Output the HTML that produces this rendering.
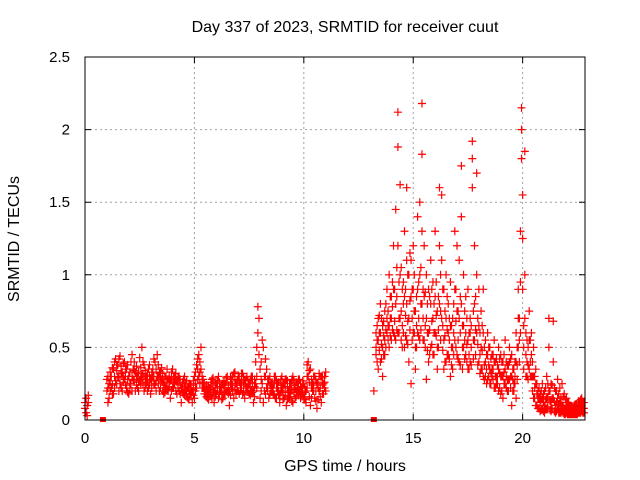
<!DOCTYPE html>
<html><head><meta charset="utf-8"><style>
body{margin:0;background:#fff}
svg{display:block;font-family:"Liberation Sans",sans-serif}
</style></head><body>
<svg id="chart" width="640" height="480" xmlns="http://www.w3.org/2000/svg">
<rect width="640" height="480" fill="#fff"/>
<text x="345" y="32" font-size="16" text-anchor="middle">Day 337 of 2023, SRMTID for receiver cuut</text>
<text x="345" y="471" font-size="16" text-anchor="middle">GPS time / hours</text>
<text transform="translate(19,239) rotate(-90)" font-size="16" text-anchor="middle">SRMTID / TECUs</text>
<g id="grid"></g>
<g id="marks"></g>
<rect x="85" y="57" width="500" height="363" fill="none" stroke="#000" stroke-width="1"/>
<g id="ticks"></g>
</svg>
<script>
const xTicks=[0,5,10,15,20];
const yTicks=[0,0.5,1,1.5,2,2.5];
const yTickLabels=["0","0.5","1","1.5","2","2.5"];
const zeroTimes=[0.82,13.2];
const times=[0,0.05,0.1,0.15,
1.0,1.1,1.2,1.3,1.4,1.5,1.6,1.7,1.8,1.9,2.0,2.1,2.2,2.3,2.4,2.5,2.6,2.7,2.8,2.9,3.0,3.1,3.2,3.3,3.4,3.5,3.6,3.7,3.8,3.9,4.0,4.1,4.2,4.3,4.4,4.5,4.6,4.7,4.8,4.9,5.0,5.1,5.2,5.3,5.4,5.5,5.6,5.7,5.8,5.9,6.0,6.1,6.2,6.3,6.4,6.5,6.6,6.7,6.8,6.9,7.0,7.1,7.2,7.3,7.4,7.5,7.6,7.7,7.8,7.9,7.95,8.0,8.1,8.15,8.2,8.3,8.4,8.5,8.6,8.7,8.8,8.9,9.0,9.1,9.2,9.3,9.4,9.5,9.6,9.7,9.8,9.9,10.0,10.1,10.2,10.3,10.4,10.5,10.6,10.7,10.8,10.9,11.0,
1.05,1.15,1.25,1.35,1.45,1.55,1.65,1.75,1.85,1.95,2.05,2.15,2.25,2.35,2.45,2.55,2.65,2.75,2.85,2.95,3.05,3.15,3.25,3.35,3.45,3.55,3.65,3.75,3.85,3.95,4.05,4.15,4.25,4.35,4.45,4.55,4.65,4.75,4.85,4.95,5.05,5.15,5.25,5.35,5.45,5.55,5.65,5.75,5.85,5.95,6.05,6.15,6.25,6.35,6.45,6.55,6.65,6.75,6.85,6.95,7.05,7.15,7.25,7.35,7.45,7.55,7.65,7.75,7.85,8.05,8.25,8.35,8.45,8.55,8.65,8.75,8.85,8.95,9.05,9.15,9.25,9.35,9.45,9.55,9.65,9.75,9.85,9.95,10.05,10.15,10.25,10.35,10.45,10.55,10.65,10.75,10.85,10.95,
13.2,13.3,13.4,13.5,13.6,13.7,13.8,13.9,14.0,14.1,14.2,14.3,14.4,14.5,14.6,14.7,14.8,14.9,15.0,15.1,15.2,15.3,15.4,15.5,15.6,15.7,15.8,15.9,16.0,16.1,16.2,16.3,16.4,16.5,16.6,16.7,16.8,16.9,17.0,17.1,17.2,17.3,17.4,17.5,17.6,17.7,17.8,17.9,18.0,18.1,18.2,18.3,18.4,18.5,18.6,18.7,18.8,18.9,19.0,19.1,19.2,19.3,19.4,19.5,19.6,19.7,19.8,19.9,19.95,20.0,20.1,20.2,20.3,20.4,20.5,20.6,20.7,20.8,20.9,21.0,21.1,21.2,21.3,21.4,21.5,21.6,21.7,21.8,21.9,22.0,22.1,22.2,22.3,22.4,22.5,22.6,22.7,22.8,
13.35,13.45,13.55,13.65,13.75,13.85,13.95,14.05,14.15,14.25,14.35,14.45,14.55,14.65,14.75,14.85,14.95,15.05,15.15,15.25,15.35,15.45,15.55,15.65,15.75,15.85,15.95,16.05,16.15,16.25,16.35,16.45,16.55,16.65,16.75,16.85,16.95,17.05,17.15,17.25,17.35,17.45,17.55,17.65,17.75,17.85,17.95,18.05,18.15,18.25,18.35,18.45,18.55,18.65,18.75,18.85,18.95,19.05,19.15,19.25,19.35,19.45,19.55,19.65,19.75,19.85,20.05,20.15,20.25,20.35,20.45,20.55,20.65,20.75,20.85,20.95,21.05,21.15,21.25,21.35,21.45,21.55,21.65,21.75,21.85,21.95,22.05,22.15,22.25,22.35,22.45,22.55,22.65,22.75];
const srmtid=[[0.12,0.08],[0.15,0.05],[0.1,0.03],[0.17,0.12],
[0.2,0.28],[0.25,0.15],[0.3,0.22],[0.18,0.35],[0.42,0.27],[0.38,0.3],[0.25,0.44],[0.33,0.2],[0.28,0.4],[0.22,0.35],[0.3,0.18],[0.4,0.25],[0.35,0.28],[0.2,0.33],[0.3,0.22],[0.43,0.27],[0.5,0.3],[0.38,0.2],[0.3,0.25],[0.22,0.35],[0.28,0.18],[0.35,0.3],[0.25,0.4],[0.45,0.3],[0.32,0.2],[0.36,0.28],[0.25,0.18],[0.3,0.22],[0.2,0.28],[0.27,0.15],[0.35,0.22],[0.25,0.3],[0.18,0.27],[0.3,0.2],[0.22,0.12],[0.28,0.18],[0.2,0.25],[0.15,0.22],[0.25,0.18],[0.2,0.12],[0.15,0.3],[0.38,0.22],[0.45,0.3],[0.5,0.35],[0.28,0.22],[0.18,0.2],[0.2,0.15],[0.22,0.18],[0.28,0.15],[0.2,0.12],[0.25,0.18],[0.3,0.15],[0.2,0.22],[0.15,0.25],[0.25,0.18],[0.3,0.2],[0.2,0.1],[0.28,0.22],[0.32,0.15],[0.25,0.18],[0.3,0.2],[0.2,0.25],[0.32,0.18],[0.27,0.15],[0.22,0.3],[0.18,0.25],[0.3,0.2],[0.2,0.12],[0.25,0.4],[0.78,0.6],[0.7,0.45],[0.35,0.15],[0.55,0.25],[0.5,0.12],[0.3,0.2],[0.35,0.22],[0.28,0.15],[0.2,0.25],[0.22,0.18],[0.3,0.15],[0.25,0.2],[0.18,0.12],[0.22,0.3],[0.15,0.25],[0.28,0.1],[0.2,0.15],[0.25,0.18],[0.3,0.12],[0.22,0.15],[0.2,0.25],[0.28,0.2],[0.18,0.22],[0.25,0.15],[0.2,0.12],[0.4,0.3],[0.35,0.1],[0.2,0.25],[0.3,0.15],[0.25,0.08],[0.32,0.2],[0.3,0.12],[0.25,0.18],[0.33,0.2],
[0.22,0.3,0.12],[0.27,0.2,0.33],[0.24,0.36,0.18],[0.3,0.4,0.22],[0.34,0.25,0.38],[0.29,0.42,0.2],[0.32,0.22,0.37],[0.26,0.3,0.39],[0.35,0.24,0.3],[0.28,0.38,0.19],[0.25,0.33,0.22],[0.3,0.45,0.2],[0.27,0.34,0.4],[0.24,0.3,0.37],[0.33,0.26,0.2],[0.36,0.29,0.24],[0.32,0.4,0.25],[0.28,0.22,0.34],[0.26,0.31,0.2],[0.3,0.24,0.38],[0.22,0.33,0.27],[0.3,0.42,0.24],[0.35,0.27,0.2],[0.38,0.3,0.25],[0.29,0.22,0.33],[0.26,0.32,0.2],[0.24,0.3,0.19],[0.28,0.21,0.35],[0.23,0.3,0.26],[0.2,0.28,0.33],[0.29,0.22,0.25],[0.27,0.2,0.32],[0.22,0.3,0.25],[0.24,0.18,0.28],[0.19,0.26,0.22],[0.23,0.3,0.17],[0.21,0.27,0.16],[0.2,0.25,0.14],[0.18,0.24,0.21],[0.22,0.17,0.27],[0.25,0.2,0.33],[0.42,0.28,0.35],[0.4,0.33,0.25],[0.3,0.22,0.26],[0.22,0.18,0.25],[0.2,0.24,0.16],[0.18,0.23,0.14],[0.21,0.26,0.17],[0.24,0.19,0.29],[0.22,0.16,0.25],[0.27,0.2,0.22],[0.23,0.18,0.26],[0.19,0.25,0.14],[0.22,0.27,0.18],[0.26,0.2,0.29],[0.24,0.18,0.21],[0.25,0.3,0.17],[0.3,0.24,0.2],[0.28,0.21,0.33],[0.27,0.2,0.24],[0.26,0.3,0.18],[0.28,0.22,0.32],[0.25,0.19,0.3],[0.24,0.28,0.2],[0.27,0.2,0.23],[0.22,0.28,0.17],[0.26,0.19,0.3],[0.23,0.16,0.28],[0.3,0.22,0.5],[0.4,0.28,0.2],[0.3,0.18,0.42],[0.28,0.2,0.25],[0.24,0.18,0.3],[0.26,0.2,0.22],[0.25,0.17,0.3],[0.22,0.27,0.15],[0.2,0.26,0.17],[0.24,0.19,0.28],[0.2,0.26,0.14],[0.23,0.17,0.28],[0.22,0.27,0.14],[0.25,0.19,0.16],[0.21,0.28,0.13],[0.24,0.19,0.27],[0.2,0.26,0.16],[0.22,0.17,0.28],[0.25,0.2,0.15],[0.23,0.18,0.27],[0.22,0.14,0.19],[0.3,0.38,0.22],[0.26,0.34,0.16],[0.28,0.22,0.15],[0.24,0.2,0.3],[0.28,0.2,0.13],[0.26,0.14,0.22],[0.3,0.22,0.16],[0.24,0.29,0.18],[0.3,0.22,0.26],
[0.2],[0.6,0.5,0.45],[0.7,0.55,0.35],[0.8,0.6,0.4],[0.65,0.5,0.3],[0.75,0.45,0.55],[0.9,0.6,0.7],[1.0,0.65,0.5],[0.85,0.7,0.55],[1.2,0.9,0.6],[1.45,0.8,0.55],[2.12,1.88,1.2,0.6],[1.62,1.0,0.7],[0.9,0.65,0.5],[1.3,0.85,0.5],[1.6,1.1,0.8,0.55],[1.0,0.7,0.4],[1.1,0.85,0.25],[1.2,0.9,0.6],[0.75,0.5,0.35],[1.4,0.9,0.6],[1.5,1.0,0.55],[2.18,1.83,1.3,0.8],[1.2,0.85,0.55],[1.0,0.7,0.28],[0.9,0.6,0.4],[1.1,0.8,0.5],[0.95,0.7,0.45],[1.3,0.85,0.6],[0.75,0.5,0.35],[1.6,1.2,0.8],[1.55,1.1,0.7],[0.9,0.55,0.35],[1.0,0.7,0.4],[0.8,0.6,0.45],[0.95,0.65,0.3],[0.7,0.5,0.35],[1.3,0.9,0.55],[1.2,0.75,0.45],[1.1,0.7,0.4],[1.75,1.4,0.8],[1.0,0.65,0.5],[0.85,0.6,0.45],[0.9,0.55,0.35],[0.7,0.6,0.4],[1.92,1.8,1.6],[1.2,0.8,0.55],[1.7,1.0,0.6],[0.9,0.65,0.4],[0.75,0.5,0.35],[0.9,0.6,0.3],[0.55,0.4,0.3],[0.6,0.45,0.28],[0.5,0.35,0.25],[0.45,0.35,0.3],[0.55,0.4,0.22],[0.42,0.3,0.25],[0.5,0.35,0.2],[0.45,0.3,0.18],[0.4,0.3,0.15],[0.55,0.35,0.25],[0.38,0.28,0.2],[0.5,0.4,0.28],[0.45,0.3,0.1],[0.35,0.25,0.2],[0.6,0.4,0.15],[0.9,0.7,0.5],[1.3,0.95,0.6],[2.15,2.0,1.8],[1.55,1.25,0.9],[1.85,1.0,0.7],[0.55,0.4,0.3],[0.75,0.55,0.35],[0.6,0.45,0.3],[0.5,0.3,0.15],[0.35,0.25,0.1],[0.2,0.15,0.08],[0.18,0.12,0.06],[0.25,0.15,0.08],[0.2,0.1,0.05],[0.3,0.15,0.08],[0.7,0.5,0.2],[0.25,0.12,0.06],[0.68,0.4,0.15],[0.2,0.1,0.05],[0.28,0.15,0.08],[0.22,0.12,0.05],[0.25,0.1,0.06],[0.18,0.08,0.04],[0.15,0.1,0.05],[0.12,0.07,0.04],[0.1,0.06,0.04],[0.08,0.05,0.04],[0.1,0.06,0.04],[0.08,0.05,0.04],[0.12,0.07,0.05],[0.15,0.1,0.06],[0.12,0.08,0.05],
[0.55,0.65,0.4],[0.6,0.48,0.72],[0.52,0.7,0.42],[0.58,0.45,0.68],[0.62,0.5,0.8],[0.75,0.55,0.65],[0.7,0.58,0.85],[0.78,0.62,0.95],[0.9,0.68,0.58],[0.85,1.05,0.62],[0.95,0.7,0.6],[1.05,0.75,0.55],[0.8,0.6,0.95],[0.9,0.72,0.58],[1.0,0.68,0.52],[0.82,0.62,1.15],[0.9,0.7,0.55],[1.0,0.75,0.6],[0.85,0.65,0.5],[0.95,0.7,0.58],[1.05,0.8,0.62],[0.9,0.7,0.55],[0.88,0.65,0.5],[0.8,0.6,0.48],[0.85,0.62,0.45],[0.9,0.68,0.52],[0.8,0.6,0.45],[0.95,0.72,0.58],[0.85,0.62,0.5],[1.0,0.75,0.55],[0.9,0.65,0.48],[0.75,0.58,0.4],[0.85,0.62,0.45],[0.7,0.55,0.42],[0.65,0.5,0.38],[0.8,0.6,0.45],[0.9,0.68,0.5],[0.75,0.55,0.42],[0.85,0.6,0.38],[0.65,0.5,0.35],[0.75,0.55,0.42],[0.7,0.52,0.4],[0.6,0.45,0.35],[0.65,0.5,0.38],[0.75,0.55,0.42],[0.85,0.62,0.45],[0.7,0.52,0.38],[0.6,0.45,0.32],[0.65,0.48,0.35],[0.5,0.38,0.28],[0.45,0.35,0.25],[0.5,0.38,0.3],[0.42,0.32,0.25],[0.45,0.35,0.28],[0.4,0.3,0.22],[0.38,0.3,0.25],[0.42,0.32,0.22],[0.4,0.3,0.2],[0.45,0.33,0.25],[0.4,0.3,0.22],[0.38,0.28,0.2],[0.42,0.3,0.22],[0.35,0.28,0.2],[0.4,0.3,0.25],[0.5,0.38,0.28],[0.7,0.55,0.4],[0.65,0.5,0.35],[0.6,0.45,0.3],[0.5,0.38,0.28],[0.55,0.4,0.3],[0.4,0.3,0.2],[0.3,0.22,0.15],[0.25,0.18,0.1],[0.22,0.15,0.08],[0.2,0.14,0.07],[0.18,0.12,0.06],[0.22,0.14,0.08],[0.25,0.16,0.09],[0.2,0.13,0.07],[0.24,0.15,0.08],[0.22,0.13,0.06],[0.2,0.12,0.06],[0.18,0.11,0.05],[0.15,0.09,0.05],[0.16,0.1,0.05],[0.14,0.08,0.04],[0.12,0.07,0.04],[0.1,0.06,0.04],[0.09,0.05,0.04],[0.1,0.06,0.04],[0.11,0.06,0.04],[0.13,0.08,0.05],[0.14,0.09,0.05],[0.12,0.08,0.05]];

const L=85,R=585,T=57,B=420,XMAX=22.85,YMAX=2.5;
const xs=t=>L+(t/XMAX)*(R-L);
const ys=v=>B-(v/YMAX)*(B-T);
const NS="http://www.w3.org/2000/svg";
function mk(tag,attrs,parent){const e=document.createElementNS(NS,tag);for(const k in attrs)e.setAttribute(k,attrs[k]);parent.appendChild(e);return e;}
const grid=document.getElementById('grid'),ticks=document.getElementById('ticks'),marks=document.getElementById('marks');
xTicks.forEach((t,i)=>{const x=xs(t);
 if(i>0){const g=mk('line',{x1:x,x2:x,y1:T,y2:B,stroke:'#a0a0a0','stroke-dasharray':'2,3'},grid);
 
 }
 const tk=mk('path',{d:`M${x},${B}v-6M${x},${T}v6`,stroke:'#000'},ticks);
 
 
 const tx=mk('text',{x:x,y:B+23,'font-size':15,'text-anchor':'middle'},ticks);tx.textContent=t;
 
 
});
yTicks.forEach((v,i)=>{const y=ys(v);
 if(i>0&&i<yTicks.length-1){const g=mk('line',{x1:L,x2:R,y1:y,y2:y,stroke:'#a0a0a0','stroke-dasharray':'2,3'},grid);
 
 }
 const tk=mk('path',{d:`M${L},${y}h6M${R},${y}h-6`,stroke:'#000'},ticks);
 
 
 const tx=mk('text',{x:L-15,y:y+5,'font-size':15,'text-anchor':'end'},ticks);tx.textContent=yTickLabels[i];
 
 
});
let d='';
times.forEach((t,i)=>{srmtid[i].forEach(v=>{const x=xs(t),y=ys(v);d+=`M${x-4},${y}h8M${x},${y-4}v8`;});});
const p=mk('path',{d:d,stroke:'#ff0000','stroke-width':1.2,fill:'none'},marks);


zeroTimes.forEach(t=>{const r=mk('rect',{x:xs(t)-3,y:B-3,width:6,height:5,fill:'#ff0000'},marks);
 
 });
</script>
</body></html>
